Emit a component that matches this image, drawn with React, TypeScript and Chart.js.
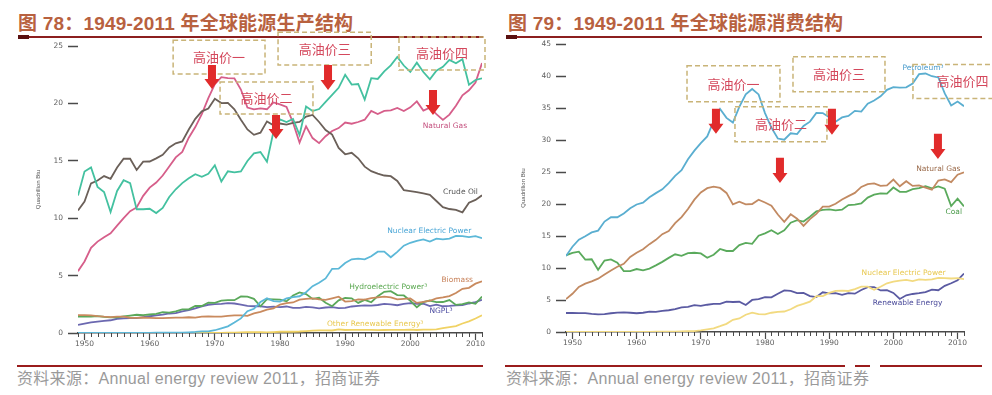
import React, { useEffect, useRef } from 'react';
import { Chart, registerables } from 'chart.js';
Chart.register(...registerables);

// ---------- categories / ticks ----------
const YEARS = Array.from({ length: 63 }, (_, i) => 1949 + i);
const X_TICK_LABELS = [1950, 1960, 1970, 1980, 1990, 2000, 2010];
const PROD_Y_TICKS = [0, 5, 10, 15, 20, 25];
const CONS_Y_TICKS = [0, 5, 10, 15, 20, 25, 30, 35, 40, 45];

// ---------- Figure 78: production (quadrillion Btu) ----------
const prodCoal = [11.97, 14.06, 14.42, 12.73, 12.28, 10.54, 12.37, 13.31, 13.06, 10.78, 10.78,
  10.82, 10.45, 10.90, 11.85, 12.52, 13.06, 13.47, 13.83, 13.61, 13.86,
  14.61, 13.19, 14.09, 13.99, 14.07, 14.99, 15.65, 15.76, 14.91, 17.54,
  18.60, 18.38, 18.64, 17.25, 19.72, 19.33, 19.51, 20.14, 20.74, 21.36,
  22.49, 21.64, 21.69, 20.34, 22.20, 22.13, 22.79, 23.31, 24.05, 23.30,
  22.74, 23.55, 22.73, 22.09, 22.85, 23.19, 23.79, 23.49, 23.85, 21.62,
  22.04, 22.18];
const prodCrude = [10.68, 11.45, 13.04, 13.28, 13.67, 13.43, 14.41, 15.18, 15.18, 14.20, 14.93,
  14.94, 15.21, 15.52, 16.16, 16.52, 16.69, 17.73, 18.65, 19.31, 19.56,
  20.40, 20.03, 20.04, 19.49, 18.58, 17.73, 17.26, 17.45, 18.43, 18.10,
  18.25, 18.15, 18.31, 18.39, 18.85, 18.99, 18.38, 17.68, 17.28, 16.12,
  15.57, 15.70, 15.22, 14.49, 14.10, 13.89, 13.72, 13.66, 13.24, 12.45,
  12.36, 12.28, 12.16, 12.03, 11.50, 10.96, 10.80, 10.72, 10.51, 11.35,
  11.59, 11.99];
const prodGas = [5.38, 6.23, 7.42, 7.96, 8.34, 8.68, 9.35, 10.00, 10.61, 10.94, 11.95,
  12.66, 13.11, 13.72, 14.51, 15.30, 15.78, 17.01, 17.94, 19.07, 20.45,
  21.67, 22.28, 22.21, 22.19, 21.21, 19.64, 19.48, 19.57, 19.49, 20.08,
  19.91, 19.70, 18.32, 16.59, 18.01, 16.98, 16.54, 17.14, 17.60, 17.85,
  18.33, 18.23, 18.38, 18.58, 19.35, 19.08, 19.34, 19.39, 19.61, 19.34,
  19.66, 20.17, 19.38, 19.63, 19.07, 18.56, 19.02, 19.79, 20.70, 21.14,
  21.81, 23.51];
const prodNuclear = [0, 0, 0, 0, 0, 0, 0, 0, 0, 0, 0,
  0.01, 0.02, 0.03, 0.04, 0.04, 0.04, 0.06, 0.09, 0.14, 0.15,
  0.24, 0.41, 0.58, 0.91, 1.27, 1.90, 2.11, 2.70, 3.02, 2.78,
  2.74, 3.01, 3.13, 3.20, 3.55, 4.08, 4.38, 4.75, 5.59, 5.60,
  6.10, 6.42, 6.48, 6.41, 6.69, 7.08, 7.09, 6.60, 7.07, 7.61,
  7.86, 8.03, 8.15, 7.96, 8.22, 8.16, 8.22, 8.46, 8.43, 8.36,
  8.43, 8.26];
const prodHydro = [1.43, 1.42, 1.42, 1.47, 1.41, 1.36, 1.36, 1.44, 1.52, 1.59, 1.55,
  1.61, 1.66, 1.82, 1.77, 1.89, 2.06, 2.06, 2.35, 2.35, 2.65,
  2.63, 2.82, 2.86, 2.86, 3.18, 3.16, 2.98, 2.33, 2.94, 2.93,
  2.90, 2.76, 3.27, 3.53, 3.39, 2.97, 3.07, 2.64, 2.33, 2.84,
  3.05, 3.02, 2.62, 2.89, 2.68, 3.21, 3.59, 3.64, 3.30, 3.27,
  2.81, 2.24, 2.69, 2.83, 2.69, 2.70, 2.87, 2.45, 2.51, 2.67,
  2.54, 3.17];
const prodBiomass = [1.55, 1.56, 1.54, 1.47, 1.42, 1.39, 1.42, 1.42, 1.33, 1.32, 1.35,
  1.32, 1.30, 1.30, 1.32, 1.34, 1.34, 1.37, 1.34, 1.42, 1.44,
  1.43, 1.43, 1.50, 1.53, 1.54, 1.50, 1.71, 1.84, 2.04, 2.15,
  2.48, 2.60, 2.66, 2.90, 2.97, 3.02, 2.93, 2.88, 3.02, 3.16,
  2.74, 2.78, 2.93, 2.91, 3.03, 3.10, 3.16, 3.11, 2.93, 2.97,
  3.01, 2.62, 2.71, 2.81, 3.01, 3.10, 3.22, 3.48, 3.85, 3.94,
  4.30, 4.51];
const prodNGPL = [0.71, 0.82, 0.92, 1.00, 1.06, 1.11, 1.24, 1.28, 1.29, 1.29, 1.38,
  1.46, 1.53, 1.60, 1.70, 1.74, 1.88, 2.00, 2.14, 2.32, 2.46,
  2.51, 2.54, 2.60, 2.57, 2.47, 2.37, 2.33, 2.33, 2.25, 2.29,
  2.25, 2.31, 2.19, 2.18, 2.27, 2.24, 2.15, 2.22, 2.26, 2.16,
  2.18, 2.31, 2.36, 2.41, 2.39, 2.44, 2.53, 2.50, 2.42, 2.53,
  2.61, 2.55, 2.56, 2.35, 2.47, 2.33, 2.36, 2.41, 2.42, 2.57,
  2.69, 2.89];
const prodOtherRenew = [0, 0, 0, 0, 0, 0, 0, 0, 0, 0, 0,
  0, 0, 0, 0, 0.01, 0, 0, 0.01, 0.01, 0.01,
  0.01, 0.01, 0.03, 0.04, 0.05, 0.07, 0.08, 0.08, 0.06, 0.08,
  0.11, 0.12, 0.11, 0.13, 0.17, 0.20, 0.22, 0.23, 0.22, 0.32,
  0.26, 0.27, 0.28, 0.27, 0.27, 0.25, 0.26, 0.27, 0.27, 0.28,
  0.29, 0.26, 0.29, 0.30, 0.31, 0.43, 0.52, 0.60, 0.83, 1.02,
  1.26, 1.55];

// ---------- Figure 79: consumption (quadrillion Btu) ----------
const consPetroleum = [11.88, 13.32, 14.43, 14.96, 15.56, 15.84, 17.26, 17.94, 17.93, 18.53, 19.32,
  19.92, 20.22, 21.05, 21.70, 22.30, 23.25, 24.40, 25.28, 26.98, 28.34,
  29.52, 30.56, 32.95, 34.84, 33.46, 32.73, 35.18, 37.12, 37.97, 37.12,
  34.20, 31.93, 30.23, 30.05, 31.05, 30.92, 32.20, 32.87, 34.22, 34.21,
  33.55, 32.85, 33.53, 33.75, 34.56, 34.44, 35.68, 36.16, 36.82, 37.84,
  38.26, 38.19, 38.22, 38.81, 40.29, 40.39, 39.96, 39.77, 37.28, 35.40,
  36.01, 35.28];
const consGas = [5.15, 5.97, 7.05, 7.55, 7.91, 8.33, 9.00, 9.61, 10.19, 10.66, 11.72,
  12.39, 12.93, 13.73, 14.40, 15.29, 15.77, 17.00, 17.95, 19.21, 20.68,
  21.80, 22.47, 22.70, 22.51, 21.73, 19.95, 20.35, 19.93, 20.00, 20.67,
  20.24, 19.75, 18.36, 17.22, 18.39, 17.70, 16.59, 17.64, 18.45, 19.60,
  19.60, 20.03, 20.71, 21.23, 21.73, 22.67, 23.09, 23.22, 22.83, 22.91,
  23.82, 22.77, 23.56, 22.83, 22.92, 22.57, 22.24, 23.66, 23.84, 23.42,
  24.58, 24.96];
const consCoal = [11.98, 12.35, 12.55, 11.31, 11.37, 9.72, 11.17, 11.35, 10.82, 9.53, 9.52,
  9.84, 9.62, 9.91, 10.41, 10.96, 11.58, 12.14, 11.91, 12.33, 12.38,
  12.27, 11.60, 12.08, 12.97, 12.66, 12.66, 13.58, 13.92, 13.77, 15.04,
  15.42, 15.91, 15.32, 15.89, 17.07, 17.48, 17.26, 18.01, 18.85, 19.07,
  19.17, 18.99, 19.12, 19.84, 19.91, 20.09, 21.00, 21.45, 21.66, 21.62,
  22.58, 21.91, 21.90, 22.32, 22.47, 22.80, 22.45, 22.75, 22.39, 19.69,
  20.83, 19.64];
const consNuclear = [0, 0, 0, 0, 0, 0, 0, 0, 0, 0, 0,
  0.01, 0.02, 0.03, 0.04, 0.04, 0.04, 0.06, 0.09, 0.14, 0.15,
  0.24, 0.41, 0.58, 0.91, 1.27, 1.90, 2.11, 2.70, 3.02, 2.78,
  2.74, 3.01, 3.13, 3.20, 3.55, 4.08, 4.38, 4.75, 5.59, 5.60,
  6.10, 6.42, 6.48, 6.41, 6.69, 7.08, 7.09, 6.60, 7.07, 7.61,
  7.86, 8.03, 8.15, 7.96, 8.22, 8.16, 8.22, 8.46, 8.43, 8.36,
  8.43, 8.26];
const consRenewable = [2.97, 2.98, 2.96, 2.94, 2.83, 2.75, 2.78, 2.93, 3.04, 3.08, 3.01,
  2.93, 3.01, 3.19, 3.15, 3.31, 3.40, 3.56, 3.84, 3.91, 4.19,
  4.07, 4.26, 4.41, 4.41, 4.74, 4.69, 4.73, 4.21, 5.01, 5.12,
  5.43, 5.41, 5.98, 6.50, 6.44, 6.08, 6.11, 5.62, 5.46, 6.21,
  6.04, 6.07, 5.82, 6.08, 5.99, 6.56, 7.01, 7.02, 6.49, 6.52,
  6.10, 5.16, 5.73, 5.94, 6.06, 6.23, 6.63, 6.53, 7.21, 7.62,
  8.09, 9.14];

// ---------- styles ----------
const AXIS = '#4a4a4a';
const TICK_TXT = '#5e5e5e';
const BOX_COLOR = '#c9b478';
const BOX_TEXT = '#d4485c';
const ARROW = '#e12b2b';

const PROD_SERIES = [
  { name: 'Coal', data: prodCoal, color: '#44c1a0' },
  { name: 'Crude Oil', data: prodCrude, color: '#6b6059' },
  { name: 'Natural Gas', data: prodGas, color: '#d65e8a' },
  { name: 'Nuclear Electric Power', data: prodNuclear, color: '#5cb8d8' },
  { name: 'Biomass', data: prodBiomass, color: '#c98a5e' },
  { name: 'Hydroelectric Power', data: prodHydro, color: '#5aa85a' },
  { name: 'NGPL', data: prodNGPL, color: '#6b68b0' },
  { name: 'Other Renewable Energy', data: prodOtherRenew, color: '#f0d264' },
];
const CONS_SERIES = [
  { name: 'Petroleum', data: consPetroleum, color: '#5aaed0' },
  { name: 'Natural Gas', data: consGas, color: '#c28a62' },
  { name: 'Coal', data: consCoal, color: '#5aaa5c' },
  { name: 'Nuclear Electric Power', data: consNuclear, color: '#f2da80' },
  { name: 'Renewable Energy', data: consRenewable, color: '#5a5aa2' },
];

const PROD_ANN = {
  labels: [
    { text: 'Natural Gas', x: 2005.3, y: 18.0, color: '#c4507e' },
    { text: 'Crude Oil', x: 2007.7, y: 12.3, color: '#555' },
    { text: 'Nuclear Electric Power', x: 2002.9, y: 8.9, color: '#4aa6d6' },
    { text: 'Biomass', x: 2007.2, y: 4.6, color: '#c8825a' },
    { text: 'Hydroelectric Power³', x: 1996.6, y: 4.0, color: '#5aa850' },
    { text: 'NGPL³', x: 2004.7, y: 1.9, color: '#4a4aa0' },
    { text: 'Other Renewable Energy³', x: 1994.6, y: 0.78, color: '#e8c850' },
  ],
  boxes: [
    { text: '高油价一', x0: 1963.6, x1: 1977.7, y0: 25.5, y1: 22.56 },
    { text: '高油价二', x0: 1970.8, x1: 1985.06, y0: 21.86, y1: 19.08 },
    { text: '高油价三', x0: 1979.7, x1: 1994.0, y0: 26.2, y1: 23.34 },
    { text: '高油价四', x0: 1998.26, x1: 2011.46, y0: 25.78, y1: 22.91 },
  ],
  arrows: [
    { x: 1969.56, top: 23.34, tip: 21.25 },
    { x: 1979.39, top: 18.99, tip: 16.9 },
    { x: 1987.37, top: 23.34, tip: 21.17 },
    { x: 2003.48, top: 21.17, tip: 18.99 },
  ],
};
const CONS_ANN = {
  labels: [
    { text: 'Petroleum³', x: 2004.6, y: 41.3, color: '#4a9ccc' },
    { text: 'Natural Gas', x: 2007.0, y: 25.5, color: '#9a6a4a' },
    { text: 'Coal', x: 2009.4, y: 18.7, color: '#4a9a4a' },
    { text: 'Nuclear Electric Power', x: 2001.6, y: 9.25, color: '#e8c850' },
    { text: 'Renewable Energy', x: 2002.2, y: 4.5, color: '#4a4a9a' },
  ],
  boxes: [
    { text: '高油价一', x0: 1967.85, x1: 1982.33, y0: 41.61, y1: 35.97 },
    { text: '高油价二', x0: 1975.32, x1: 1989.65, y0: 35.19, y1: 29.71 },
    { text: '高油价三', x0: 1984.36, x1: 1998.69, y0: 43.02, y1: 37.54 },
    { text: '高油价四', x0: 2003.05, x1: 2018.5, y0: 41.8, y1: 36.48 },
  ],
  arrows: [
    { x: 1972.36, top: 34.88, tip: 30.96 },
    { x: 1982.33, top: 27.21, tip: 23.29 },
    { x: 1990.43, top: 34.88, tip: 30.81 },
    { x: 2006.94, top: 30.96, tip: 27.05 },
  ],
};

function makeDecor(ann: any) {
  return {
    id: 'decor',
    afterDatasetsDraw(chart: any) {
      const { ctx, chartArea } = chart;
      const xs = chart.scales.x;
      const ys = chart.scales.y;
      ctx.save();
      // minor yearly ticks
      ctx.strokeStyle = AXIS;
      ctx.lineWidth = 1;
      ctx.beginPath();
      for (const yr of YEARS) {
        if (yr % 10 === 0) continue;
        const px = Math.round(xs.getPixelForValue(yr)) + 0.5;
        ctx.moveTo(px, chartArea.bottom);
        ctx.lineTo(px, chartArea.bottom + 4);
      }
      ctx.stroke();
      // series labels
      ctx.textAlign = 'center';
      ctx.textBaseline = 'middle';
      ctx.font = '7.5px "DejaVu Sans"';
      for (const l of ann.labels) {
        ctx.fillStyle = l.color;
        ctx.fillText(l.text, xs.getPixelForValue(l.x), ys.getPixelForValue(l.y));
      }
      // dashed boxes
      ctx.setLineDash([5, 3]);
      ctx.lineWidth = 1.5;
      ctx.strokeStyle = BOX_COLOR;
      ctx.font = '13px "Noto Sans CJK SC"';
      ctx.fillStyle = BOX_TEXT;
      for (const b of ann.boxes) {
        const x0 = xs.getPixelForValue(b.x0), x1 = xs.getPixelForValue(b.x1);
        const y0 = ys.getPixelForValue(b.y0), y1 = ys.getPixelForValue(b.y1);
        ctx.strokeRect(x0, y0, x1 - x0, y1 - y0);
        ctx.fillText(b.text, (x0 + x1) / 2, (y0 + y1) / 2);
      }
      ctx.setLineDash([]);
      // arrows
      ctx.fillStyle = ARROW;
      for (const a of ann.arrows) {
        const x = xs.getPixelForValue(a.x);
        const yt = ys.getPixelForValue(a.top);
        const yp = ys.getPixelForValue(a.tip);
        const sw = 4, hw = 7.5, hl = 10;
        ctx.beginPath();
        ctx.moveTo(x - sw, yt);
        ctx.lineTo(x + sw, yt);
        ctx.lineTo(x + sw, yp - hl);
        ctx.lineTo(x + hw, yp - hl);
        ctx.lineTo(x, yp);
        ctx.lineTo(x - hw, yp - hl);
        ctx.lineTo(x - sw, yp - hl);
        ctx.closePath();
        ctx.fill();
      }
      ctx.restore();
    },
  };
}

function buildConfig(series: any[], yTicks: number[], pad: any, yWidth: number, ann: any): any {
  return {
    type: 'line',
    data: {
      datasets: series.map((s) => ({
        label: s.name,
        data: YEARS.map((yr, i) => ({ x: yr, y: s.data[i] })),
        borderColor: s.color,
        backgroundColor: s.color,
        borderWidth: 1.8,
        pointRadius: 0,
        tension: 0,
        fill: false,
      })),
    },
    options: {
      animation: false,
      responsive: false,
      maintainAspectRatio: false,
      layout: { padding: pad },
      plugins: { legend: { display: false }, tooltip: { enabled: false }, title: { display: false } },
      scales: {
        x: {
          type: 'linear',
          min: YEARS[0],
          max: YEARS[YEARS.length - 1],
          afterBuildTicks: (s: any) => { s.ticks = YEARS.map((v) => ({ value: v })); },
          afterFit: (s: any) => { s.height = 20; },
          ticks: {
            autoSkip: false,
            maxRotation: 0,
            padding: 0,
            color: TICK_TXT,
            font: { family: 'DejaVu Sans', size: 7.5 },
            callback: (v: number) => (X_TICK_LABELS.includes(v) ? String(v) : ''),
          },
          grid: {
            drawOnChartArea: false,
            tickLength: 7,
            tickWidth: 1.2,
            tickColor: (c: any) => (c.tick && X_TICK_LABELS.includes(c.tick.value) ? AXIS : 'rgba(0,0,0,0)'),
          },
          border: { display: true, color: AXIS, width: 1.5 },
        },
        y: {
          min: yTicks[0],
          max: yTicks[yTicks.length - 1],
          afterBuildTicks: (s: any) => { s.ticks = yTicks.map((v) => ({ value: v })); },
          afterFit: (s: any) => { s.width = yWidth; },
          ticks: { padding: 5, color: TICK_TXT, font: { family: 'DejaVu Sans', size: 7.5 } },
          grid: { drawOnChartArea: false, tickLength: 10, tickWidth: 1.5, tickColor: AXIS },
          border: { display: false },
          title: { display: true, text: 'Quadrillion Btu', color: '#555', font: { family: 'Liberation Sans', size: 6 }, padding: 4 },
        },
      },
    },
    plugins: [makeDecor(ann)],
  };
}

const titleStyle: any = {
  position: 'absolute', top: 13, fontFamily: '"Liberation Sans", "Noto Sans CJK SC", sans-serif',
  fontWeight: 'bold', fontSize: 19, lineHeight: '21px', letterSpacing: '0.2px', color: '#b8613f', whiteSpace: 'nowrap',
};
const sourceStyle: any = {
  position: 'absolute', top: 371, fontFamily: '"Liberation Sans", "Noto Sans CJK SC", sans-serif',
  fontSize: 16, lineHeight: '16px', letterSpacing: '0.3px', color: '#9a9a9a', whiteSpace: 'nowrap',
};
const rule = (left: number, top: number, width: number, h = 2, color = '#8c1f1f'): any => ({
  position: 'absolute', left, top, width, height: h, background: color,
});

export default function App() {
  const leftRef = useRef<HTMLCanvasElement>(null);
  const rightRef = useRef<HTMLCanvasElement>(null);

  useEffect(() => {
    const c1 = new Chart(leftRef.current as any, buildConfig(PROD_SERIES, PROD_Y_TICKS, { top: 46, left: 31, right: 14, bottom: 9 }, 47, PROD_ANN));
    const c2 = new Chart(rightRef.current as any, buildConfig(CONS_SERIES, CONS_Y_TICKS, { top: 44, left: 20, right: 28, bottom: 10 }, 50, CONS_ANN));
    return () => { c1.destroy(); c2.destroy(); };
  }, []);

  return (
    <div style={{ position: 'fixed', left: 0, top: 0, width: 992, height: 395, background: '#fff', overflow: 'hidden' }}>
      <div style={{ ...titleStyle, left: 18 }}>图 78：1949-2011 年全球能源生产结构</div>
      <div style={rule(18, 36, 465)} />
      <div style={rule(18, 35, 11, 4, '#5a1010')} />
      <div style={{ ...titleStyle, left: 508 }}>图 79：1949-2011 年全球能源消费结构</div>
      <div style={rule(506, 36, 476)} />
      <div style={rule(506, 35, 11, 4, '#5a1010')} />

      <canvas ref={leftRef} width={496} height={362} style={{ position: 'absolute', left: 0, top: 0, width: 496, height: 362 }} />
      <canvas ref={rightRef} width={496} height={362} style={{ position: 'absolute', left: 496, top: 0, width: 496, height: 362 }} />

      <div style={rule(17, 365, 466, 2, '#9a1c1c')} />
      <div style={rule(505, 365, 340, 2, '#9a1c1c')} />
      <div style={rule(855, 365, 15, 2, '#9a1c1c')} />
      <div style={rule(880, 365, 102, 2, '#9a1c1c')} />
      <div style={{ ...sourceStyle, left: 17 }}>资料来源：Annual energy review 2011，招商证券</div>
      <div style={{ ...sourceStyle, left: 506 }}>资料来源：Annual energy review 2011，招商证券</div>
    </div>
  );
}
